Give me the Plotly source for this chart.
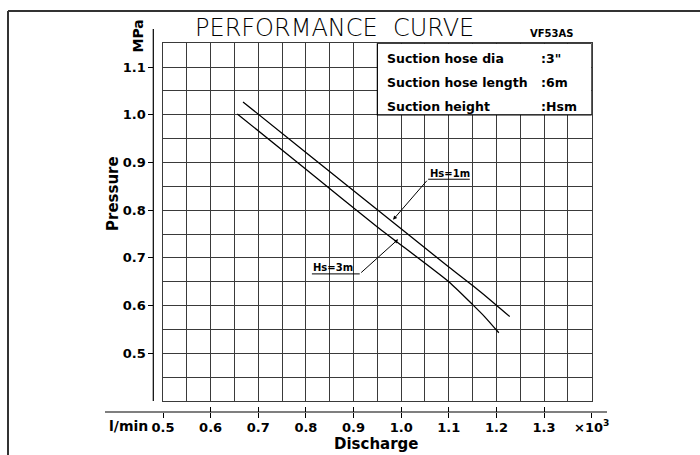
import plotly.graph_objects as go

# ---- data (discharge in x10^3 l/min, pressure in MPa) ----
hs1_q = [0.668, 0.80, 0.95, 1.10, 1.15, 1.20, 1.228]
hs1_p = [1.027, 0.921, 0.801, 0.681, 0.642, 0.601, 0.577]
hs3_q = [0.656, 0.80, 0.95, 1.10, 1.15, 1.175, 1.205]
hs3_p = [1.002, 0.886, 0.765, 0.650, 0.602, 0.577, 0.543]

x_ticks = [0.5, 0.6, 0.7, 0.8, 0.9, 1.0, 1.1, 1.2, 1.3, 1.4]
x_ticktext = ["0.5", "0.6", "0.7", "0.8", "0.9", "1.0", "1.1", "1.2", "1.3", "×10<sup>3</sup>"]
y_ticks = [0.5, 0.6, 0.7, 0.8, 0.9, 1.0, 1.1]
y_ticktext = ["0.5", "0.6", "0.7", "0.8", "0.9", "1.0", "1.1"]

info_labels = ["Suction hose dia", "Suction hose length", "Suction height"]
info_values = [':3"', ":6m", ":Hsm"]

FONT = "DejaVu Sans"
GRID = "#3a3a3a"

# pixel helpers for decoration placement (paper spans x 105..607, y 29..412)
def px(xp):
    return (xp - 105) / 502.0

def py(yp):
    return (412 - yp) / 383.0

fig = go.Figure()
fig.add_trace(go.Scatter(x=hs1_q, y=hs1_p, mode="lines",
                         line=dict(color="black", width=1.3, shape="spline", smoothing=0.6),
                         showlegend=False, hoverinfo="skip"))
fig.add_trace(go.Scatter(x=hs3_q, y=hs3_p, mode="lines",
                         line=dict(color="black", width=1.3, shape="spline", smoothing=0.6),
                         showlegend=False, hoverinfo="skip"))

xdom = [px(163), px(591.7)]
ydom = [py(401), py(43.3)]

fig.update_layout(
    width=700, height=455,
    margin=dict(l=105, r=93, t=29, b=43, autoexpand=False),
    paper_bgcolor="white", plot_bgcolor="white",
    showlegend=False,
    xaxis=dict(range=[0.5, 1.4], domain=xdom, tick0=0.5, dtick=0.1, showticklabels=False,
               showgrid=True, gridcolor=GRID, gridwidth=1, zeroline=False,
               showline=True, linecolor=GRID, linewidth=1, mirror=True, ticks="",
               minor=dict(dtick=0.05, showgrid=True, gridcolor=GRID, gridwidth=1),
               automargin=False),
    yaxis=dict(range=[0.4, 1.15], domain=ydom, tick0=0.4, dtick=0.1, showticklabels=False,
               showgrid=True, gridcolor=GRID, gridwidth=1, zeroline=False,
               showline=True, linecolor=GRID, linewidth=1, mirror=True, ticks="",
               minor=dict(dtick=0.05, showgrid=True, gridcolor=GRID, gridwidth=1),
               automargin=False),
    xaxis2=dict(overlaying="x", matches="x", anchor="free", position=0, side="bottom",
                tickmode="array", tickvals=x_ticks, ticktext=x_ticktext,
                ticks="outside", ticklen=5, tickcolor="black", tickwidth=1,
                ticklabelstandoff=-2,
                showgrid=False, zeroline=False, showline=False,
                tickfont=dict(family=FONT, size=13, color="black", weight="bold"),
                automargin=False),
    xaxis3=dict(overlaying="x", matches="x", anchor="free", position=0, side="bottom",
                tickmode="array", tickvals=x_ticks, showticklabels=False,
                ticks="inside", ticklen=5, tickcolor="black", tickwidth=1,
                showgrid=False, zeroline=False, showline=False, automargin=False),
    yaxis2=dict(overlaying="y", matches="y", anchor="free", position=px(153.3), side="left",
                tickmode="array", tickvals=y_ticks, ticktext=y_ticktext,
                ticks="outside", ticklen=5, tickcolor="black", tickwidth=1,
                showgrid=False, zeroline=False, showline=False,
                tickfont=dict(family=FONT, size=13, color="black", weight="bold"),
                automargin=False),
)

# invisible traces to activate the overlay axes
fig.add_trace(go.Scatter(x=[hs1_q[0]], y=[hs1_p[0]], xaxis="x2", yaxis="y2", mode="markers",
                         marker=dict(opacity=0), showlegend=False, hoverinfo="skip"))
fig.add_trace(go.Scatter(x=[hs1_q[0]], y=[hs1_p[0]], xaxis="x3", yaxis="y", mode="markers",
                         marker=dict(opacity=0), showlegend=False, hoverinfo="skip"))

shapes = []
# outer frame (top and left)
shapes.append(dict(type="line", xref="paper", yref="paper", x0=px(8), x1=px(702), y0=py(11), y1=py(11),
                   line=dict(color="#333", width=2)))
shapes.append(dict(type="line", xref="paper", yref="paper", x0=px(8), x1=px(8), y0=py(11), y1=py(460),
                   line=dict(color="#333", width=2)))
# axis lines
shapes.append(dict(type="line", xref="paper", yref="paper", x0=px(153.3), x1=px(153.3), y0=py(29), y1=py(401),
                   line=dict(color="black", width=1.2)))
shapes.append(dict(type="line", xref="paper", yref="paper", x0=px(105), x1=px(607), y0=py(412), y1=py(412),
                   line=dict(color="black", width=1.2)))
# info box
shapes.append(dict(type="rect", xref="x", yref="y", x0=0.95, x1=1.4, y0=1.0, y1=1.15,
                   fillcolor="white", line=dict(color="black", width=1.2), layer="above"))
# leader lines (horizontal parts)
shapes.append(dict(type="line", xref="x", yref="y", x0=1.0566, x1=1.144, y0=0.865, y1=0.865,
                   line=dict(color="black", width=1)))
shapes.append(dict(type="line", xref="x", yref="y", x0=0.8126, x1=0.913, y0=0.6665, y1=0.6665,
                   line=dict(color="black", width=1)))
fig.update_layout(shapes=shapes)

ann = []
bold = dict(family=FONT, color="black", weight="bold")
ann.append(dict(text="PERFORMANCE  CURVE", xref="paper", yref="paper", x=px(334.5), y=py(28),
                showarrow=False, xanchor="center", yanchor="middle",
                font=dict(family=FONT, size=24, color="black", weight=200)))
ann.append(dict(text="VF53AS", xref="paper", yref="paper", x=px(551), y=py(34),
                showarrow=False, xanchor="center", yanchor="middle", font=dict(size=10, **bold)))
ann.append(dict(text="MPa", xref="paper", yref="paper", x=px(137), y=py(36.5), textangle=-90,
                showarrow=False, xanchor="center", yanchor="middle", font=dict(size=14, **bold)))
ann.append(dict(text="Pressure", xref="paper", yref="paper", x=px(113), y=py(194), textangle=-90,
                showarrow=False, xanchor="center", yanchor="middle", font=dict(size=15, **bold)))
ann.append(dict(text="Discharge", xref="paper", yref="paper", x=px(376.5), y=py(444),
                showarrow=False, xanchor="center", yanchor="middle", font=dict(size=15, **bold)))
ann.append(dict(text="l/min", xref="paper", yref="paper", x=px(150), y=py(426),
                showarrow=False, xanchor="right", yanchor="middle", font=dict(size=14, **bold)))
rows_y = [59, 82, 106]
for lab, val, yy in zip(info_labels, info_values, rows_y):
    ann.append(dict(text=lab, xref="paper", yref="paper", x=px(385), y=py(yy),
                    showarrow=False, xanchor="left", yanchor="middle", font=dict(size=12.5, **bold)))
    ann.append(dict(text=val, xref="paper", yref="paper", x=px(539), y=py(yy),
                    showarrow=False, xanchor="left", yanchor="middle", font=dict(size=12.5, **bold)))
# curve labels
ann.append(dict(text="Hs=1m", xref="x", yref="y", x=1.1026, y=0.8777, showarrow=False,
                xanchor="center", yanchor="middle", font=dict(size=10, **bold)))
ann.append(dict(text="Hs=3m", xref="x", yref="y", x=0.8559, y=0.6805, showarrow=False,
                xanchor="center", yanchor="middle", font=dict(size=10, **bold)))
# leader arrows
ann.append(dict(text="", x=0.983, y=0.780, xref="x", yref="y", ax=1.0566, ay=0.865, axref="x", ayref="y",
                showarrow=True, arrowhead=2, arrowsize=0.8, arrowwidth=1, arrowcolor="black", standoff=0))
ann.append(dict(text="", x=0.9936, y=0.739, xref="x", yref="y", ax=0.913, ay=0.6665, axref="x", ayref="y",
                showarrow=True, arrowhead=2, arrowsize=0.8, arrowwidth=1, arrowcolor="black", standoff=0))
fig.update_layout(annotations=ann)

fig.write_html("out.html", config={"displayModeBar": False},
               post_script="document.body.style.margin='0';")
